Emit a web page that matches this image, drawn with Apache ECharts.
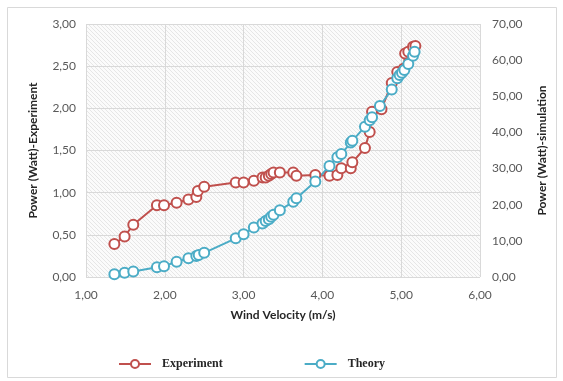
<!DOCTYPE html>
<html>
<head>
<meta charset="utf-8">
<script src="https://cdn.jsdelivr.net/npm/echarts@6/dist/echarts.min.js"></script>
<style>
  html, body { margin: 0; padding: 0; background: #fff; }
  #main { width: 563px; height: 381px; }
</style>
</head>
<body>
<div id="main"></div>
<script>
// measured data
var velocityExp = [1.36, 1.49, 1.60, 1.90, 1.99, 2.15, 2.30, 2.40, 2.42, 2.50, 2.90, 3.00, 3.13, 3.24, 3.28, 3.32, 3.35, 3.38, 3.46, 3.63, 3.67, 3.91, 4.09, 4.19, 4.24, 4.36, 4.38, 4.54, 4.60, 4.63, 4.75, 4.88, 4.95, 5.03, 5.05, 5.09, 5.15, 5.18]
var powerExp = [0.39, 0.48, 0.62, 0.85, 0.85, 0.88, 0.92, 0.95, 1.02, 1.07, 1.12, 1.12, 1.14, 1.18, 1.18, 1.20, 1.22, 1.24, 1.24, 1.24, 1.20, 1.21, 1.20, 1.21, 1.29, 1.29, 1.36, 1.53, 1.72, 1.96, 1.99, 2.30, 2.43, 2.47, 2.65, 2.67, 2.73, 2.74]

// simulation data
var velocityTheory = [1.36, 1.49, 1.60, 1.90, 1.99, 2.15, 2.30, 2.40, 2.43, 2.50, 2.90, 3.00, 3.13, 3.24, 3.28, 3.32, 3.35, 3.38, 3.46, 3.63, 3.67, 3.91, 4.09, 4.19, 4.24, 4.36, 4.38, 4.54, 4.60, 4.63, 4.73, 4.88, 4.95, 4.98, 5.01, 5.04, 5.09, 5.15, 5.17]
var powerTheory = [0.75, 1.2, 1.5, 2.7, 3.0, 4.2, 5.2, 5.8, 6.1, 6.7, 10.7, 11.8, 13.7, 14.8, 15.5, 16.0, 16.7, 17.2, 18.5, 20.8, 21.8, 26.4, 30.7, 33.1, 34.0, 37.2, 37.7, 41.6, 43.4, 44.2, 47.3, 51.9, 55.0, 55.9, 56.5, 57.3, 58.9, 61.2, 62.3]

function pairs(xs, ys) {
  return xs.map(function (x, i) { return [x, ys[i]] })
}
function comma(v) {
  return v.toFixed(2).replace('.', ',')
}

// hatched plot background
var hatch = document.createElement('canvas')
hatch.width = 4
hatch.height = 4
var hc = hatch.getContext('2d')
hc.fillStyle = '#fbfbfb'
hc.fillRect(0, 0, 4, 4)
hc.strokeStyle = '#e6e6e6'
hc.lineWidth = 1
hc.beginPath()
hc.moveTo(-1, -1); hc.lineTo(5, 5)
hc.moveTo(-1, 3); hc.lineTo(1, 5)
hc.moveTo(3, -1); hc.lineTo(5, 1)
hc.stroke()

var myChart = echarts.init(document.getElementById('main'))

var labelStyle = { color: '#595959', fontFamily: 'Lato', fontSize: 12 }
var nameStyle = { color: '#262626', fontFamily: 'Lato', fontSize: 12, fontWeight: 'bold' }

var option = {
  animation: false,
  backgroundColor: '#fff',
  graphic: [{
    type: 'rect',
    shape: { x: 7.5, y: 7.5, width: 549, height: 370 },
    style: { fill: 'none', stroke: '#d9d9d9', lineWidth: 1 },
    silent: true
  }],
  grid: {
    left: 86, right: 83, top: 24, bottom: 104,
    show: true,
    borderWidth: 0,
    backgroundColor: { image: hatch, repeat: 'repeat' }
  },
  legend: {
    top: 353,
    left: 113,
    itemGap: 81,
    itemWidth: 32,
    itemHeight: 10,
    formatter: function (name) { return '\u00a0\u00a0' + name },
    textStyle: { fontFamily: 'Liberation Serif', fontWeight: 'bold', fontSize: 12, color: '#262626' },
    data: ['Experiment', 'Theory']
  },
  xAxis: {
    type: 'value',
    min: 1, max: 6, interval: 1,
    name: 'Wind Velocity (m/s)',
    nameLocation: 'middle',
    nameGap: 32,
    nameTextStyle: nameStyle,
    axisLine: { show: false },
    axisTick: { show: false },
    axisLabel: Object.assign({ formatter: comma, margin: 12 }, labelStyle),
    splitLine: { show: true, lineStyle: { color: '#d9d9d9' } }
  },
  yAxis: [{
    type: 'value',
    min: 0, max: 3, interval: 0.5,
    name: 'Power (Watt)-Experiment',
    nameLocation: 'middle',
    nameGap: 47,
    nameTextStyle: nameStyle,
    axisLine: { show: false },
    axisTick: { show: false },
    axisLabel: Object.assign({ formatter: comma, margin: 10 }, labelStyle),
    splitLine: { show: true, lineStyle: { color: '#d9d9d9' } }
  }, {
    type: 'value',
    min: 0, max: 70, interval: 10,
    name: 'Power (Watt)-simulation',
    nameLocation: 'middle',
    nameGap: 56,
    nameRotate: 90,
    nameTextStyle: nameStyle,
    axisLine: { show: false },
    axisTick: { show: false },
    axisLabel: Object.assign({ formatter: comma, margin: 12 }, labelStyle),
    splitLine: { show: false }
  }],
  series: [{
    name: 'Experiment',
    type: 'line',
    yAxisIndex: 0,
    data: pairs(velocityExp, powerExp),
    symbol: 'emptyCircle',
    symbolSize: 10,
    lineStyle: { color: '#C0504D', width: 2 },
    itemStyle: { color: '#C0504D', borderColor: '#C0504D', borderWidth: 1.6 }
  }, {
    name: 'Theory',
    type: 'line',
    yAxisIndex: 1,
    data: pairs(velocityTheory, powerTheory),
    symbol: 'emptyCircle',
    symbolSize: 10,
    lineStyle: { color: '#4BACC6', width: 2 },
    itemStyle: { color: '#4BACC6', borderColor: '#4BACC6', borderWidth: 1.6 }
  }]
}

myChart.setOption(option)
</script>
</body>
</html>
